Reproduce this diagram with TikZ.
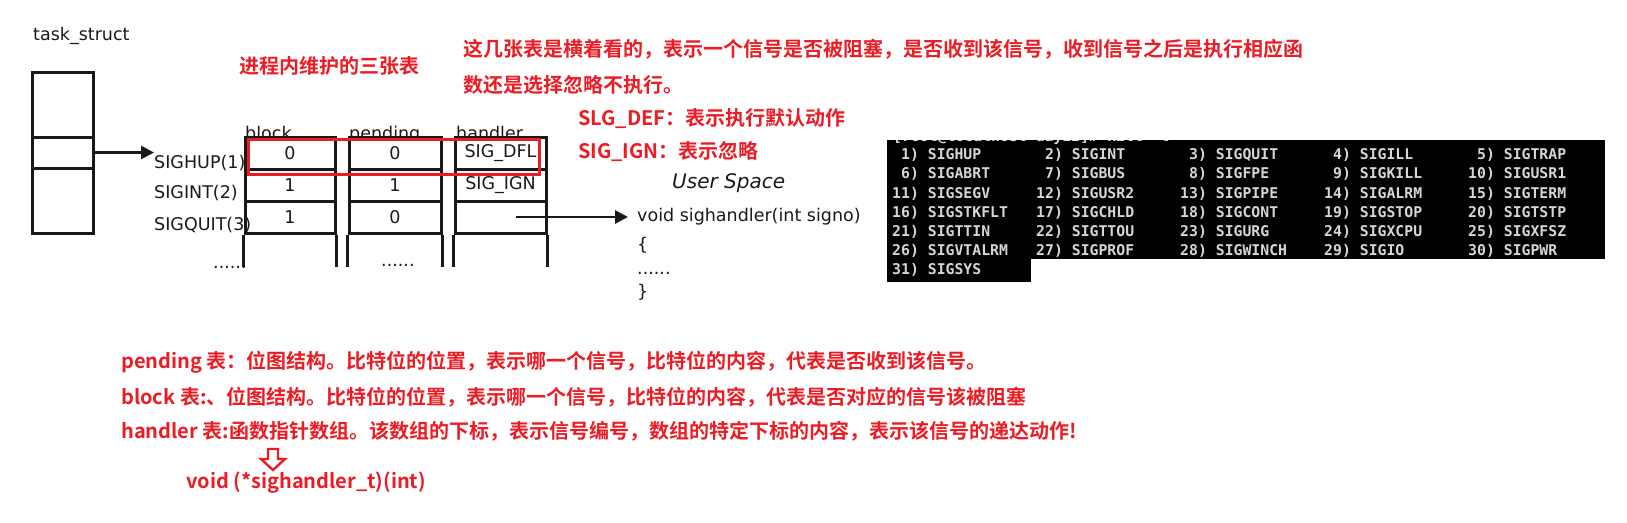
\documentclass[tikz,border=0pt]{standalone}
\usepackage{fontspec}
\setmainfont{DejaVu Sans}
\newfontfamily\cjkfont{Noto Sans CJK SC}[BoldFont={Noto Sans CJK SC Bold}]
\newfontfamily\termfont{DejaVu Sans Mono}
\usetikzlibrary{arrows.meta}
\definecolor{markred}{RGB}{235,28,36}
\definecolor{termgray}{RGB}{214,214,214}
\definecolor{inkgray}{RGB}{25,25,25}
\tikzset{
	cell/.style={draw=inkgray, line width=3pt, fill=white, minimum width=90pt, minimum height=32pt, inner sep=0pt, text=inkgray, font=\fontsize{17.5}{20}\selectfont},
	lbl/.style={inner sep=0pt, anchor=west, text=inkgray, font=\fontsize{17.5}{20}\selectfont},
	note/.style={inner sep=0pt, anchor=west, text=markred, font=\cjkfont\bfseries\fontsize{20}{24}\selectfont},
	sigline/.style={inner sep=0pt, anchor=west, text=termgray, font=\termfont\bfseries\fontsize{14.8}{16}\selectfont},
	arr/.style={draw=inkgray, line width=2.8pt, -{Triangle[length=13pt, width=13pt]}},
}

\begin{document}
\begin{tikzpicture}[x=1pt, y=-1pt]
	\useasboundingbox (0,0) rectangle (1627,522);
	% task_struct:
	\node[lbl, anchor=base west] (tslbl) at (33,40) {task\_struct};
	\node[cell, minimum width=61pt, minimum height=65pt] (ts1) at (62.5,104.5){};
	\node[cell, minimum width=61pt, minimum height=31pt] (ts2) at (62.5,152.5){};
	\node[cell, minimum width=61pt, minimum height=65pt] (ts3) at (62.5,200.5){};
	% the three tables:
	\node[lbl, anchor=base west] (blocklbl) at (245,139) {block};
	\node[lbl, anchor=base west] (pendlbl) at (349,139) {pending};
	\node[lbl, anchor=base west] (handlbl) at (456,139) {handler};
	\foreach \c/\x/\w/\p/\q/\r in {b/290/90/0/1/1, p/395/92/0/1/0, h/500.5/91/SIG\_DFL/SIG\_IGN/{}}{
		\node[cell, minimum width=\w pt] (\c1) at (\x,153) {\p};
		\node[cell, minimum width=\w pt] (\c2) at (\x,185) {\q};
		\node[cell, minimum width=\w pt] (\c3) at (\x,217) {\r};
		\draw[draw=inkgray, line width=3pt] (\c3.south west) -- ++(0,32);
		\draw[draw=inkgray, line width=3pt] (\c3.south east) -- ++(0,32);
	}
	\node[lbl, anchor=base west] (penddots) at (381,266) {......};
	% signal names:
	\node[lbl] (row1) at (154,163) {SIGHUP(1)};
	\node[lbl] (row2) at (154,193) {SIGINT(2)};
	\node[lbl] (row3) at (154,225) {SIGQUIT(3)};
	\node[lbl, anchor=base west] (rowdots) at (213,268) {......};
	\draw[arr] (ts2.east) -- (ts2.east -| row1.west);
	\draw[markred, line width=3pt] (248,139) rectangle (539,174);
	% user space handler:
	\node[lbl, font=\itshape\fontsize{20}{24}\selectfont] (uspace) at (672,183) {User Space};
	\node[lbl] (code1) at (637,217) {void sighandler(int signo)};
	\node[lbl] (code2) at (637,245) {\{};
	\node[lbl, anchor=base west] (code3) at (637,274) {......};
	\node[lbl] (code4) at (637,292) {\}};
	\draw[arr, shorten >=9pt] ([xshift=15pt]h3.center) -- (code1.west);
	% red notes:
	\node[note] (title) at (239,66) {进程内维护的三张表};
	\node[note] (hint1) at (463,49) {这几张表是横着看的，表示一个信号是否被阻塞，是否收到该信号，收到信号之后是执行相应函};
	\node[note] (hint2) at (463,85) {数还是选择忽略不执行。};
	\node[note] (dfl) at (578,119) {SLG\_DEF：表示执行默认动作};
	\node[note] (ign) at (578,152) {SIG\_IGN：表示忽略};
	\node[note] (pend) at (121,362) {pending 表：位图结构。比特位的位置，表示哪一个信号，比特位的内容，代表是否收到该信号。};
	\node[note] (blk) at (121,397) {block 表:、位图结构。比特位的位置，表示哪一个信号，比特位的内容，代表是否对应的信号该被阻塞};
	\node[note] (hdl) at (121,431) {handler 表:函数指针数组。该数组的下标，表示信号编号，数组的特定下标的内容，表示该信号的递达动作!};
	\node[note] (proto) at (186,483) {void (*sighandler\_t)(int)};
	\draw[markred, line width=2.4pt, line join=miter] (268,449) -- (278,449) -- (278,459) -- (285,459) -- (273,470) -- (261,459) -- (268,459) -- cycle;
	% kill -l output:
	\fill[black] (887,140) rectangle (1605,259);
	\fill[black] (887,259) rectangle (1031,282);
	\begin{scope}
		\clip (887,140) rectangle (1605,259);
		\node[sigline, anchor=base west] (prompt) at (893,141) {[root@localhost day12]\# kill -l};
	\end{scope}
	\foreach \n/\s [count=\i from 0] in {1/SIGHUP, 2/SIGINT, 3/SIGQUIT, 4/SIGILL, 5/SIGTRAP,
		6/SIGABRT, 7/SIGBUS, 8/SIGFPE, 9/SIGKILL, 10/SIGUSR1,
		11/SIGSEGV, 12/SIGUSR2, 13/SIGPIPE, 14/SIGALRM, 15/SIGTERM,
		16/SIGSTKFLT, 17/SIGCHLD, 18/SIGCONT, 19/SIGSTOP, 20/SIGTSTP,
		21/SIGTTIN, 22/SIGTTOU, 23/SIGURG, 24/SIGXCPU, 25/SIGXFSZ,
		26/SIGVTALRM, 27/SIGPROF, 28/SIGWINCH, 29/SIGIO, 30/SIGPWR,
		31/SIGSYS}
		\node[sigline] (kl\n) at ({892+144*mod(\i,5)}, {155+19.2*div(\i,5)}) {\ifnum\n<10 \phantom{0}\fi\n) \s};
\end{tikzpicture}
\end{document}
